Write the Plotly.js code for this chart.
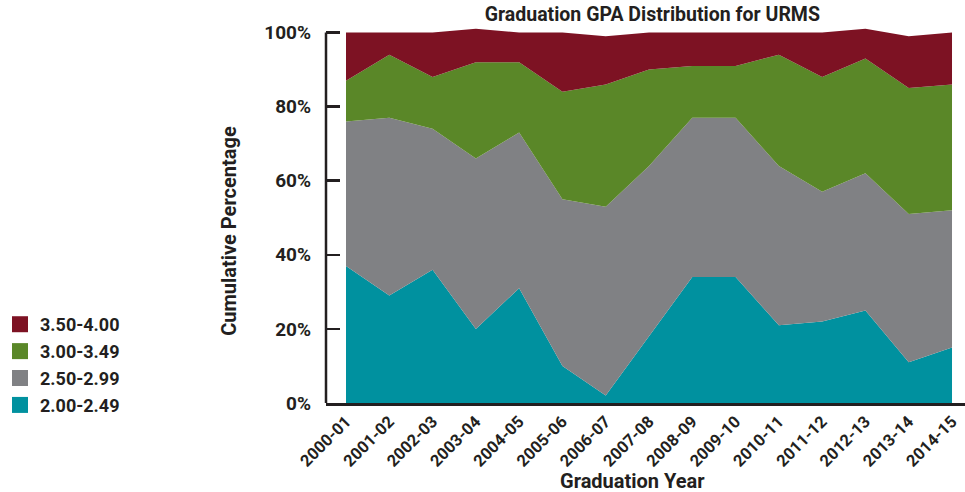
<!DOCTYPE html>
<html>
<head>
<meta charset="utf-8">
<script src="https://cdn.plot.ly/plotly-3.0.1.min.js"></script>
<style>
html,body{margin:0;padding:0;background:#fff;}
#chart{width:965px;height:492px;}
</style>
</head>
<body>
<div id="chart"></div>
<script>
const years = ["2000-01","2001-02","2002-03","2003-04","2004-05","2005-06","2006-07","2007-08","2008-09","2009-10","2010-11","2011-12","2012-13","2013-14","2014-15"];
const gpa200_249 = [37, 29, 36, 20, 31, 10, 2, 18, 34, 34, 21, 22, 25, 11, 15];
const gpa250_299 = [39, 48, 38, 46, 42, 45, 51, 46, 43, 43, 43, 35, 37, 40, 37];
const gpa300_349 = [11, 17, 14, 26, 19, 29, 33, 26, 14, 14, 30, 31, 31, 34, 34];
const gpa350_400 = [13, 6, 12, 9, 8, 16, 13, 10, 9, 9, 6, 12, 8, 14, 14];
const seriesNames = ["2.00-2.49", "2.50-2.99", "3.00-3.49", "3.50-4.00"];
const yTicks = [0, 20, 40, 60, 80, 100];
const yTickText = ["0%", "20%", "40%", "60%", "80%", "100%"];

const colors = ["#00919f", "#808184", "#5a8728", "#7d1223"];
const seriesValues = [gpa200_249, gpa250_299, gpa300_349, gpa350_400];
const fontFam = "Roboto, 'Open Sans', sans-serif";
const dark = "#231f20";

const traces = [];
seriesValues.forEach((vals, i) => {
  traces.push({
    type: "scatter", mode: "lines", x: years, y: vals,
    stackgroup: "one", name: seriesNames[i],
    line: {width: 0, color: colors[i]}, fillcolor: colors[i],
    showlegend: false, hoverinfo: "x+y+name"
  });
});
for (let i = seriesValues.length - 1; i >= 0; i--) {
  traces.push({
    type: "scatter", mode: "markers", x: [null], y: [null],
    name: seriesNames[i], legendgroup: "g" + i,
    marker: {symbol: "square", size: 21, color: colors[i]},
    showlegend: true
  });
}

const layout = {
  width: 965, height: 492,
  margin: {l: 326, r: 0, t: 27, b: 88.5, pad: 0},
  paper_bgcolor: "#fff", plot_bgcolor: "#fff",
  font: {family: fontFam, color: dark, size: 15, weight: 700},
  title: {text: "Graduation GPA Distribution for URMS", x: 0.676, xanchor: "center", y: 0.972, yanchor: "middle",
          font: {family: fontFam, size: 19.5, weight: 700, color: dark}},
  showlegend: true,
  legend: {x: 0, xanchor: "left", xref: "container", y: 0.378, yanchor: "top", yref: "container",
           traceorder: "grouped", tracegroupgap: 0.5,
           font: {family: fontFam, size: 18, weight: 700, color: dark}, itemwidth: 30,
           bgcolor: "rgba(0,0,0,0)"},
  xaxis: {
    type: "category", range: [-0.462, 14.3], showgrid: false, zeroline: false,
    showline: true, linecolor: dark, linewidth: 2.5, layer: "below traces",
    ticks: "", tickangle: -45, tickfont: {family: fontFam, size: 16.5, weight: 700, color: dark}
  },
  yaxis: {
    range: [0, 101.5], showgrid: false, zeroline: false, showline: false,
    tickvals: yTicks, ticktext: yTickText, ticks: "inside", ticklen: 14, tickwidth: 2.5, tickcolor: dark,
    ticklabelstandoff: 14, tickfont: {family: fontFam, size: 19, weight: 700, color: dark}
  },
  annotations: [
    {text: "Graduation Year", xref: "paper", yref: "paper", x: 0.4804, y: -0.2085, xanchor: "center", yanchor: "middle",
     showarrow: false, font: {family: fontFam, size: 20, weight: 700, color: dark}},
    {text: "Cumulative Percentage", xref: "paper", yref: "paper", x: -0.1518, y: 0.458, xanchor: "center", yanchor: "middle",
     textangle: -90, showarrow: false, font: {family: fontFam, size: 20, weight: 700, color: dark}}
  ],
  shapes: [
    {type: "line", xref: "paper", yref: "y", x0: 0, x1: 0, y0: 0, y1: 100, line: {color: dark, width: 2.5}, layer: "above"}
  ]
};

Plotly.newPlot("chart", traces, layout, {displayModeBar: false, staticPlot: true});
</script>
</body>
</html>
